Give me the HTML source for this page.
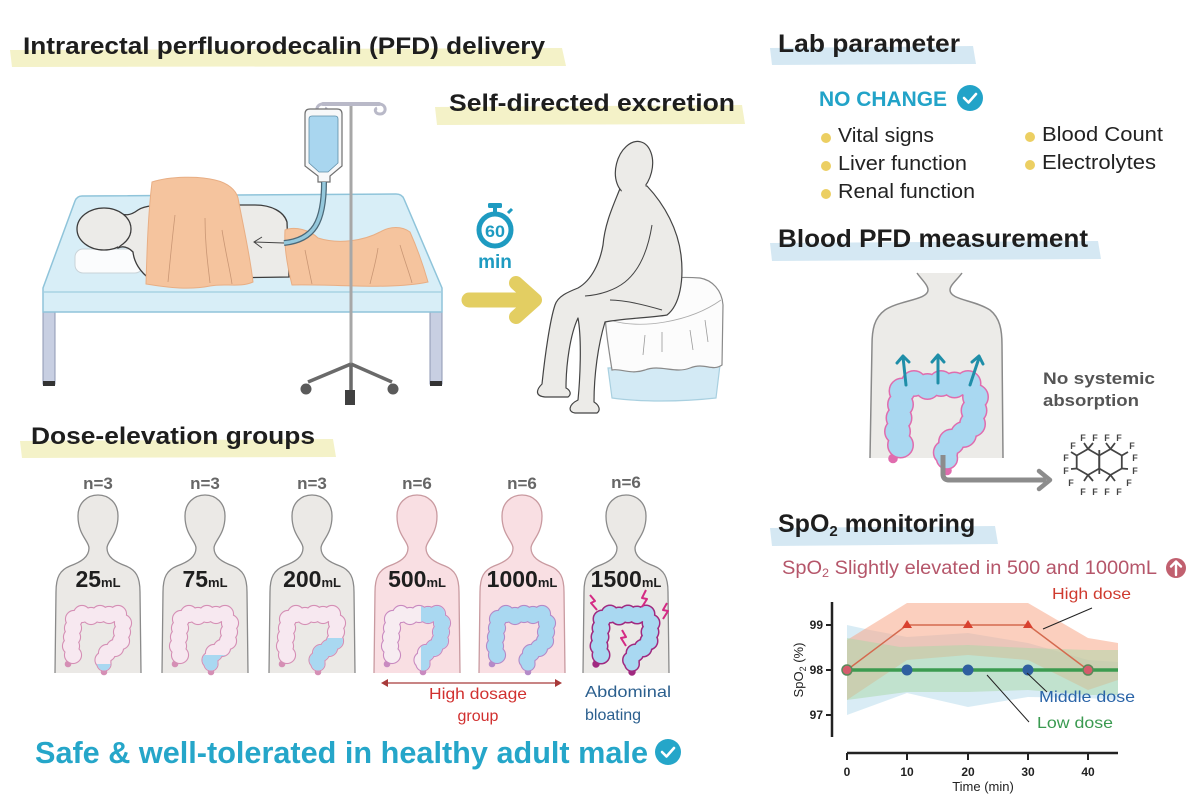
<!DOCTYPE html>
<html><head><meta charset="utf-8"><style>
html,body{margin:0;padding:0;background:#fff;}
svg{display:block;}
text{font-family:"Liberation Sans",Arial,sans-serif;}
</style></head><body>
<svg width="1200" height="800" viewBox="0 0 1200 800" xmlns="http://www.w3.org/2000/svg">
<defs>
 <g id="cpts">
  <circle cx="-25" cy="50" r="8"/><circle cx="-27" cy="41" r="8"/><circle cx="-26" cy="32" r="8"/><circle cx="-25" cy="23" r="8"/><circle cx="-24" cy="14" r="8"/><circle cx="-16" cy="9" r="8"/><circle cx="-7" cy="11" r="8"/><circle cx="2" cy="9" r="8"/><circle cx="11" cy="10" r="8"/><circle cx="20" cy="9" r="8"/><circle cx="25" cy="18" r="8"/><circle cx="24" cy="27" r="8"/><circle cx="23" cy="36" r="8"/><circle cx="17" cy="43" r="8"/><circle cx="9" cy="48" r="8"/><circle cx="5" cy="55" r="7.5"/><circle cx="6" cy="59" r="6.5"/>
 </g>
 <g id="ctails"><circle cx="-30" cy="59" r="2.2"/><circle cx="6" cy="67" r="2.2"/><rect x="5" y="63" width="2" height="4"/><rect x="-30" y="55" width="2" height="4"/></g>
 <clipPath id="c25"><rect x="-5" y="59" width="30" height="20"/></clipPath>
 <clipPath id="c75"><rect x="-5" y="50" width="30" height="30"/></clipPath>
 <clipPath id="c200"><rect x="-5" y="33" width="45" height="45"/></clipPath>
 <clipPath id="c500"><rect x="4" y="-5" width="45" height="85"/></clipPath>
 <path id="bodyp" d="M -43,673 L -42,592 C -42,577 -38,570 -28,566 C -17,562 -9,557 -9,548 C -9,541 -20,535 -20,516 C -20,503 -11,495 0,495 C 11,495 20,503 20,516 C 20,535 9,541 9,548 C 9,557 17,562 28,566 C 38,570 42,577 42,592 L 43,673"/>
</defs>

<!-- ===== TITLES & BANDS ===== -->
<polygon points="10,50 562,48 566,66 12,67" fill="#f4f2c8"/>
<polygon points="435,107 742,105 745,124 437,125" fill="#f4f2c8"/>
<polygon points="770,48 973,46 976,64 772,65" fill="#d5e8f3"/>
<polygon points="770,243 1098,241 1101,259 772,261" fill="#d5e8f3"/>
<polygon points="20,441 333,439 336,457 22,458" fill="#f4f2c8"/>
<polygon points="770,528 995,526 998,544 772,546" fill="#d5e8f3"/>

<text x="23" y="54" font-size="24" font-weight="bold" fill="#1e1e1e" textLength="522" lengthAdjust="spacingAndGlyphs">Intrarectal perfluorodecalin (PFD) delivery</text>
<text x="449" y="111" font-size="24" font-weight="bold" fill="#1e1e1e" textLength="286" lengthAdjust="spacingAndGlyphs">Self-directed excretion</text>
<text x="778" y="52" font-size="25" font-weight="bold" fill="#1e1e1e" textLength="182" lengthAdjust="spacingAndGlyphs">Lab parameter</text>
<text x="778" y="247" font-size="25" font-weight="bold" fill="#1e1e1e" textLength="310" lengthAdjust="spacingAndGlyphs">Blood PFD measurement</text>
<text x="31" y="444" font-size="24" font-weight="bold" fill="#1e1e1e" textLength="284" lengthAdjust="spacingAndGlyphs">Dose-elevation groups</text>
<text x="778" y="532" font-size="25" font-weight="bold" fill="#1e1e1e">SpO<tspan font-size="15" dy="4">2</tspan><tspan dy="-4"> monitoring</tspan></text>

<!-- ===== BED SCENE ===== -->
<rect x="43" y="312" width="12" height="72" fill="#c8cfe2" stroke="#8e97b3" stroke-width="1"/>
<rect x="43" y="381" width="12" height="5" fill="#333"/>
<rect x="430" y="312" width="12" height="72" fill="#c8cfe2" stroke="#8e97b3" stroke-width="1"/>
<rect x="430" y="381" width="12" height="5" fill="#333"/>
<path d="M 82,196 L 396,194 Q 402,194 404,199 L 442,288 L 442,312 L 43,312 L 43,288 L 75,201 Q 77,196 82,196 Z" fill="#d8eef7" stroke="#8fc4da" stroke-width="1.5"/>
<line x1="44" y1="292" x2="441" y2="292" stroke="#9fcde0" stroke-width="1.2"/>
<rect x="75" y="249" width="68" height="24" rx="8" fill="#fbfcfd" stroke="#c9d3d8" stroke-width="1"/>
<path d="M 118,212 C 124,216 130,216 138,210 C 145,205 160,205 175,205 L 255,205 C 272,205 284,212 287,222 L 289,277 L 150,279 C 140,272 134,262 133,252 C 127,246 122,246 118,248 Z" fill="#ecebe8" stroke="#3c3c3c" stroke-width="1.3"/>
<ellipse cx="104" cy="229" rx="27" ry="21" fill="#ecebe8" stroke="#3c3c3c" stroke-width="1.3"/>
<path d="M 118,213 C 125,217 130,222 130,229 C 130,236 125,242 118,247" fill="#ecebe8" stroke="none"/>
<path d="M 152,182 C 170,176 200,176 215,180 C 228,183 236,190 238,198 C 243,225 250,255 253,282 C 240,288 225,283 210,286 C 190,290 170,288 146,284 C 147,250 148,215 152,182 Z" fill="#f5c49e" stroke="#e8ae84" stroke-width="1"/>
<path d="M 175,215 C 172,240 170,262 168,282 M 205,218 C 205,245 208,265 210,283 M 222,230 C 226,255 230,270 232,284" fill="none" stroke="#c99674" stroke-width="0.8"/>
<path d="M 285,230 C 295,226 310,230 318,238 C 340,245 365,240 380,232 C 390,226 402,226 410,232 C 418,250 424,268 428,282 C 390,290 340,284 292,285 C 287,265 284,245 285,230 Z" fill="#f5c49e" stroke="#e8ae84" stroke-width="1"/>
<path d="M 305,250 C 308,265 310,275 312,284 M 378,248 C 376,262 372,275 370,284 M 400,245 C 405,262 410,275 412,283" fill="none" stroke="#c99674" stroke-width="0.8"/>
<line x1="351" y1="104" x2="351" y2="395" stroke="#a7a7a7" stroke-width="3"/>
<path d="M 351,364 L 308,382 M 351,364 L 392,382 M 351,364 L 351,392" stroke="#6a6a6a" stroke-width="3.5" fill="none"/>
<circle cx="306" cy="389" r="5.5" fill="#5a5a5a"/>
<circle cx="393" cy="389" r="5.5" fill="#5a5a5a"/>
<rect x="345" y="390" width="10" height="15" fill="#404040"/>
<path d="M 323,104 L 379,104" stroke="#b9b9c8" stroke-width="4" stroke-linecap="round"/>
<path d="M 323,104 C 315,104 315,114 322,114 C 327,114 328,109 325,108" fill="none" stroke="#b9b9c8" stroke-width="3"/>
<path d="M 379,104 C 387,104 387,114 380,114 C 375,114 374,109 377,108" fill="none" stroke="#b9b9c8" stroke-width="3"/>
<path d="M 305,114 Q 305,109 310,109 L 337,109 Q 342,109 342,114 L 342,166 L 330,176 L 330,182 L 318,182 L 318,176 L 305,166 Z" fill="#f7f8f9" stroke="#6f6f6f" stroke-width="1.2"/>
<path d="M 309,119 Q 309,116 312,116 L 335,116 Q 338,116 338,119 L 338,163 L 328,172 L 319,172 L 309,163 Z" fill="#a9d6ef" stroke="#5f8ea8" stroke-width="0.8"/>
<path d="M 324,182 C 324,222 314,240 284,243" fill="none" stroke="#4b6877" stroke-width="6"/>
<path d="M 324,182 C 324,222 314,240 284,243" fill="none" stroke="#94c8dc" stroke-width="3.5"/>
<path d="M 284,243 L 254,242 M 262,237 L 254,242 L 262,248" fill="none" stroke="#444" stroke-width="1"/>

<!-- stopwatch -->
<rect x="488" y="203" width="14" height="5" rx="1.5" fill="#1e9bc1"/>
<rect x="493" y="207" width="4" height="5" fill="#1e9bc1"/>
<line x1="508" y1="213" x2="512" y2="209" stroke="#1e9bc1" stroke-width="3"/>
<circle cx="495" cy="230" r="16" fill="#fff" stroke="#1e9bc1" stroke-width="5"/>
<text x="495" y="237" font-size="17" font-weight="bold" fill="#1e9bc1" text-anchor="middle" textLength="20" lengthAdjust="spacingAndGlyphs">60</text>
<text x="495" y="268" font-size="19" font-weight="bold" fill="#1e9bc1" text-anchor="middle">min</text>
<path d="M 469,300 L 530,300" stroke="#e3ce62" stroke-width="15" stroke-linecap="round"/>
<path d="M 516,283 L 535,300 L 516,317" fill="none" stroke="#e3ce62" stroke-width="14" stroke-linecap="round" stroke-linejoin="round"/>

<!-- stool -->
<path d="M 608,368 L 720,365 L 716,398 C 680,402 640,402 612,398 Z" fill="#d3eaf5" stroke="#a9d0e0" stroke-width="1.2"/>
<path d="M 605,300 C 620,285 660,275 700,278 C 712,280 722,290 723,305 L 722,365 C 712,372 705,362 690,368 C 675,374 660,364 645,370 C 630,375 620,368 612,370 C 608,345 604,320 605,300 Z" fill="#fcfcfc" stroke="#8a8a8a" stroke-width="1.2"/>
<path d="M 610,320 C 640,330 690,322 721,300" fill="none" stroke="#aaa" stroke-width="0.8"/>
<path d="M 645,335 L 643,355 M 662,332 L 662,352 M 690,330 L 693,350 M 705,320 L 708,342" fill="none" stroke="#999" stroke-width="0.8"/>
<!-- sitting person -->
<path d="M 621,186 C 614,204 605,222 603,245 C 600,262 592,280 578,288 C 568,292 558,296 555,305 C 550,320 545,355 542,384 C 536,390 535,396 545,397 L 568,397 C 572,394 570,390 566,388 C 566,365 570,335 578,318 C 582,340 580,380 578,400 C 568,405 568,412 575,413 L 597,413 C 601,410 599,405 594,402 C 594,375 598,345 605,322 C 625,318 650,318 667,315 C 680,305 684,280 681,255 C 678,230 665,205 647,186 Z" fill="#ecebe8" stroke="#444" stroke-width="1.2" stroke-linejoin="round"/>
<ellipse cx="634" cy="168" rx="18" ry="27" transform="rotate(14 634 168)" fill="#ecebe8" stroke="#444" stroke-width="1.2"/>
<path d="M 623,184 L 645,182 L 647,196 L 620,200 Z" fill="#ecebe8"/>
<path d="M 652,225 C 648,250 640,270 625,282 C 615,290 600,295 585,296 M 610,300 C 625,300 645,305 662,310" fill="none" stroke="#444" stroke-width="1"/>

<!-- ===== LAB PARAMETER ===== -->
<text x="819" y="106" font-size="21" font-weight="bold" fill="#22a3c8" textLength="128" lengthAdjust="spacingAndGlyphs">NO CHANGE</text>
<circle cx="970" cy="98" r="13" fill="#22a3c8"/>
<path d="M 964,98 L 968.5,102.5 L 976,94" fill="none" stroke="#fff" stroke-width="2.6" stroke-linecap="round" stroke-linejoin="round"/>
<g fill="#eccf62">
 <circle cx="826" cy="138" r="5"/><circle cx="826" cy="166" r="5"/><circle cx="826" cy="194" r="5"/>
 <circle cx="1030" cy="137" r="5"/><circle cx="1030" cy="165" r="5"/>
</g>
<g font-size="20" fill="#222">
 <text x="838" y="142" textLength="96" lengthAdjust="spacingAndGlyphs">Vital signs</text>
 <text x="838" y="170" textLength="129" lengthAdjust="spacingAndGlyphs">Liver function</text>
 <text x="838" y="198" textLength="137" lengthAdjust="spacingAndGlyphs">Renal function</text>
 <text x="1042" y="141" textLength="121" lengthAdjust="spacingAndGlyphs">Blood Count</text>
 <text x="1042" y="169" textLength="114" lengthAdjust="spacingAndGlyphs">Electrolytes</text>
</g>

<!-- ===== BLOOD PFD ===== -->
<path d="M 870,458 L 872,345 C 872,330 874,318 885,310 C 900,300 928,300 928,290 C 928,285 922,280 917,273 L 962,273 C 957,280 950,285 950,290 C 950,300 975,300 990,310 C 1000,318 1002,330 1002,345 L 1003,458 Z" fill="#ecebe8"/>
<path d="M 870,458 L 872,345 C 872,330 874,318 885,310 C 900,300 928,300 928,290 C 928,285 922,280 917,273 M 962,273 C 957,280 950,285 950,290 C 950,300 975,300 990,310 C 1000,318 1002,330 1002,345 L 1003,458" fill="none" stroke="#8a8a8a" stroke-width="1.5"/>
<g transform="translate(938,370) scale(1.5)">
 <g fill="#e06cae" stroke="#e06cae" stroke-width="2"><use href="#cpts"/><use href="#ctails"/></g>
 <g fill="#a9d8f1"><use href="#cpts"/></g>
</g>
<g fill="none" stroke="#1f8ea8" stroke-width="3" stroke-linecap="round" stroke-linejoin="round">
 <path d="M 906,385 L 903,357 M 897,363 L 903,356 L 909,362"/>
 <path d="M 938,383 L 938,356 M 932,362 L 938,355 L 944,362"/>
 <path d="M 970,385 L 979,358 M 972,362 L 979,356 L 983,364"/>
</g>
<path d="M 943,455 L 943,474 Q 943,480 949,480 L 1046,480" fill="none" stroke="#8c8c8c" stroke-width="5"/>
<path d="M 1039,471 L 1050,480 L 1039,489" fill="none" stroke="#8c8c8c" stroke-width="4.5" stroke-linecap="round" stroke-linejoin="round"/>
<text x="1043" y="384" font-size="17" font-weight="bold" fill="#555" textLength="112" lengthAdjust="spacingAndGlyphs">No systemic</text>
<text x="1043" y="406" font-size="17" font-weight="bold" fill="#555" textLength="96" lengthAdjust="spacingAndGlyphs">absorption</text>
<g fill="none" stroke="#444" stroke-width="1.8">
 <polygon points="1088,449 1099.3,455.5 1099.3,468.5 1088,475 1076.7,468.5 1076.7,455.5"/>
 <polygon points="1110.5,449 1121.8,455.5 1121.8,468.5 1110.5,475 1099.2,468.5 1099.2,455.5"/>
 <path d="M 1088,449 L 1084,443 M 1088,449 L 1093,443 M 1110.5,449 L 1106,443 M 1110.5,449 L 1115,443 M 1099.3,455.5 L 1099.3,450 M 1076.7,455.5 L 1071,452 M 1076.7,468.5 L 1071,469 M 1121.8,455.5 L 1128,452 M 1121.8,468.5 L 1128,469 M 1088,475 L 1084,481 M 1088,475 L 1093,481 M 1110.5,475 L 1106,481 M 1110.5,475 L 1115,481 M 1099.3,468.5 L 1099.3,474"/>
</g>
<g font-size="9" font-weight="bold" fill="#444" text-anchor="middle">
 <text x="1083" y="441">F</text><text x="1095" y="441">F</text><text x="1107" y="441">F</text><text x="1119" y="441">F</text>
 <text x="1073" y="449">F</text><text x="1132" y="449">F</text>
 <text x="1066" y="461">F</text><text x="1135" y="461">F</text>
 <text x="1066" y="474">F</text><text x="1135" y="474">F</text>
 <text x="1071" y="486">F</text><text x="1129" y="486">F</text>
 <text x="1083" y="495">F</text><text x="1095" y="495">F</text><text x="1107" y="495">F</text><text x="1119" y="495">F</text>
</g>

<!-- ===== SPO2 CHART ===== -->
<text x="782" y="574" font-size="19" fill="#b5566a" textLength="375" lengthAdjust="spacingAndGlyphs">SpO<tspan font-size="12" dy="3">2</tspan><tspan dy="-3"> Slightly elevated in 500 and 1000mL</tspan></text>
<circle cx="1176" cy="568" r="10" fill="#c1606f"/>
<path d="M 1176,575 L 1176,562 M 1171,566.5 L 1176,561.5 L 1181,566.5" fill="none" stroke="#fff" stroke-width="2.4" stroke-linecap="round" stroke-linejoin="round"/>

<polygon points="847,625 870,630 907,637 968,633 1028,643 1088,660 1118,662 1118,700 1088,698 1028,697 968,707 907,693 847,715" fill="#bfdfee" opacity="0.6"/>
<polygon points="847,640 907,603 1028,603 1088,638 1118,643 1118,680 1088,690 1028,660 968,655 907,660 847,700" fill="#f7a888" opacity="0.55"/>
<polygon points="847,638 900,647 968,645 1028,648 1088,650 1118,650 1118,695 1088,695 1028,690 968,692 907,692 847,700" fill="#a9d8a8" opacity="0.5"/>

<line x1="847" y1="670" x2="1118" y2="670" stroke="#3c9b50" stroke-width="3.5"/>
<polyline points="847,670 907,625 1028,625 1088,670" fill="none" stroke="#d46a4f" stroke-width="1.5"/>
<g fill="#d9412f">
 <polygon points="907,620 912,628 902,628"/><polygon points="968,620 973,628 963,628"/><polygon points="1028,620 1033,628 1023,628"/>
</g>
<g fill="#2f5f9f"><circle cx="907" cy="670" r="5.5"/><circle cx="968" cy="670" r="5.5"/><circle cx="1028" cy="670" r="5.5"/></g>
<g fill="#d55c6c" stroke="#5a8a5a" stroke-width="1.5"><circle cx="847" cy="670" r="5"/><circle cx="1088" cy="670" r="5"/></g>

<line x1="832" y1="602" x2="832" y2="737" stroke="#222" stroke-width="2.5"/>
<path d="M 826,625 L 832,625 M 826,670 L 832,670 M 826,715 L 832,715" stroke="#222" stroke-width="2"/>
<line x1="847" y1="753" x2="1118" y2="753" stroke="#222" stroke-width="2.5"/>
<path d="M 847,753 L 847,760 M 907,753 L 907,760 M 968,753 L 968,760 M 1028,753 L 1028,760 M 1088,753 L 1088,760" stroke="#222" stroke-width="2"/>
<g font-size="12" font-weight="bold" fill="#222" text-anchor="end">
 <text x="823" y="629">99</text><text x="823" y="674">98</text><text x="823" y="719">97</text>
</g>
<g font-size="12" font-weight="bold" fill="#222" text-anchor="middle">
 <text x="847" y="776">0</text><text x="907" y="776">10</text><text x="968" y="776">20</text><text x="1028" y="776">30</text><text x="1088" y="776">40</text>
</g>
<text x="983" y="791" font-size="13" fill="#222" text-anchor="middle">Time (min)</text>
<text transform="translate(803,670) rotate(-90)" font-size="13" fill="#222" text-anchor="middle">SpO<tspan font-size="9" dy="3">2</tspan><tspan dy="-3"> (%)</tspan></text>

<path d="M 1092,608 L 1043,629" stroke="#222" stroke-width="1"/>
<path d="M 1027,673 L 1047,692" stroke="#222" stroke-width="1"/>
<path d="M 987,675 L 1029,722" stroke="#222" stroke-width="1"/>
<text x="1052" y="599" font-size="16" fill="#cf3a2e" textLength="79" lengthAdjust="spacingAndGlyphs">High dose</text>
<text x="1039" y="702" font-size="16" fill="#2a64a8" textLength="96" lengthAdjust="spacingAndGlyphs">Middle dose</text>
<text x="1037" y="728" font-size="16" fill="#3a9a50" textLength="76" lengthAdjust="spacingAndGlyphs">Low dose</text>

<!-- ===== DOSE GROUPS ===== -->
<g font-size="17" font-weight="bold" fill="#666" text-anchor="middle">
 <text x="98" y="489">n=3</text><text x="205" y="489">n=3</text><text x="312" y="489">n=3</text>
 <text x="417" y="489">n=6</text><text x="522" y="489">n=6</text><text x="626" y="488">n=6</text>
</g>

<g transform="translate(98,0)">
 <use href="#bodyp" fill="#ebe9e6" stroke="#8a8a8a" stroke-width="1.3"/>
 <text x="0" y="587" text-anchor="middle" font-weight="bold" fill="#1e1e1e"><tspan font-size="23">25</tspan><tspan font-size="13">mL</tspan></text>
 <g transform="translate(0,605)">
  <g fill="#d58fb5" stroke="#d58fb5" stroke-width="2.2"><use href="#cpts"/><use href="#ctails"/></g>
  <g fill="#f7e8f0"><use href="#cpts"/></g>
  <g fill="#a9d8f1" clip-path="url(#c25)"><use href="#cpts"/></g>
 </g>
</g>
<g transform="translate(205,0)">
 <use href="#bodyp" fill="#ebe9e6" stroke="#8a8a8a" stroke-width="1.3"/>
 <text x="0" y="587" text-anchor="middle" font-weight="bold" fill="#1e1e1e"><tspan font-size="23">75</tspan><tspan font-size="13">mL</tspan></text>
 <g transform="translate(0,605)">
  <g fill="#d58fb5" stroke="#d58fb5" stroke-width="2.2"><use href="#cpts"/><use href="#ctails"/></g>
  <g fill="#f7e8f0"><use href="#cpts"/></g>
  <g fill="#a9d8f1" clip-path="url(#c75)"><use href="#cpts"/></g>
 </g>
</g>
<g transform="translate(312,0)">
 <use href="#bodyp" fill="#ebe9e6" stroke="#8a8a8a" stroke-width="1.3"/>
 <text x="0" y="587" text-anchor="middle" font-weight="bold" fill="#1e1e1e"><tspan font-size="23">200</tspan><tspan font-size="13">mL</tspan></text>
 <g transform="translate(0,605)">
  <g fill="#d58fb5" stroke="#d58fb5" stroke-width="2.2"><use href="#cpts"/><use href="#ctails"/></g>
  <g fill="#f7e8f0"><use href="#cpts"/></g>
  <g fill="#a9d8f1" clip-path="url(#c200)"><use href="#cpts"/></g>
 </g>
</g>
<g transform="translate(417,0)">
 <use href="#bodyp" fill="#f9dfe3" stroke="#c99aa0" stroke-width="1.3"/>
 <text x="0" y="587" text-anchor="middle" font-weight="bold" fill="#1e1e1e"><tspan font-size="23">500</tspan><tspan font-size="13">mL</tspan></text>
 <g transform="translate(0,605)">
  <g fill="#c98ac0" stroke="#c98ac0" stroke-width="2.2"><use href="#cpts"/><use href="#ctails"/></g>
  <g fill="#f7ecf1"><use href="#cpts"/></g>
  <g fill="#a9d8f1" clip-path="url(#c500)"><use href="#cpts"/></g>
 </g>
</g>
<g transform="translate(522,0)">
 <use href="#bodyp" fill="#f9dfe3" stroke="#c99aa0" stroke-width="1.3"/>
 <text x="0" y="587" text-anchor="middle" font-weight="bold" fill="#1e1e1e"><tspan font-size="23">1000</tspan><tspan font-size="13">mL</tspan></text>
 <g transform="translate(0,605)">
  <g fill="#b58ac8" stroke="#b58ac8" stroke-width="2.2"><use href="#cpts"/><use href="#ctails"/></g>
  <g fill="#a9d8f1"><use href="#cpts"/></g>
 </g>
</g>
<g transform="translate(626,0)">
 <use href="#bodyp" fill="#ebe9e6" stroke="#8a8a8a" stroke-width="1.3"/>
 <text x="0" y="587" text-anchor="middle" font-weight="bold" fill="#1e1e1e"><tspan font-size="23">1500</tspan><tspan font-size="13">mL</tspan></text>
 <g transform="translate(0,605)">
  <g fill="#a02a80" stroke="#a02a80" stroke-width="3"><use href="#cpts"/><use href="#ctails"/></g>
  <g fill="#a9d8f1"><use href="#cpts"/></g>
 </g>
 <g fill="none" stroke="#d42a84" stroke-width="2" stroke-linejoin="round">
  <path d="M -36,595 L -31,601 L -35,603 L -29,610"/>
  <path d="M 20,590 L 16,598 L 21,599 L 16,607"/>
  <path d="M 41,603 L 37,610 L 42,611 L 37,619"/>
  <path d="M -4,630 L 0,637 L -5,638 L 0,646"/>
 </g>
</g>

<line x1="383" y1="683" x2="560" y2="683" stroke="#a83a3a" stroke-width="1.3"/>
<path d="M 388,679 L 381,683 L 388,687 Z M 555,679 L 562,683 L 555,687 Z" fill="#a83a3a"/>
<text x="478" y="699" font-size="16" fill="#d1302f" text-anchor="middle" textLength="98" lengthAdjust="spacingAndGlyphs">High dosage</text>
<text x="478" y="721" font-size="16" fill="#d1302f" text-anchor="middle">group</text>
<text x="585" y="697" font-size="16" fill="#2b5f8e" textLength="86" lengthAdjust="spacingAndGlyphs">Abdominal</text>
<text x="585" y="720" font-size="16" fill="#2b5f8e">bloating</text>

<text x="35" y="763" font-size="31" font-weight="bold" fill="#25a6c9" textLength="613" lengthAdjust="spacingAndGlyphs">Safe &amp; well-tolerated in healthy adult male</text>
<circle cx="668" cy="752" r="13" fill="#25a6c9"/>
<path d="M 662,752 L 666.5,756.5 L 674,748" fill="none" stroke="#fff" stroke-width="2.6" stroke-linecap="round" stroke-linejoin="round"/>
</svg>
</body></html>
